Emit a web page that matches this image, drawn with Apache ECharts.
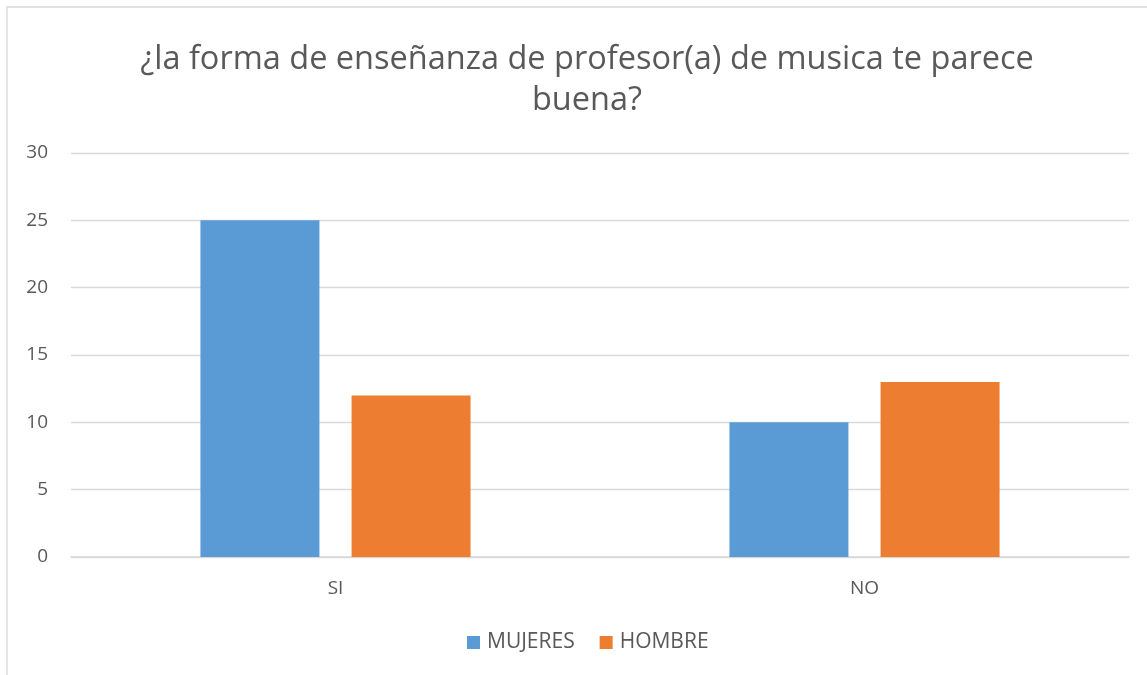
<!DOCTYPE html>
<html>
<head>
<meta charset="utf-8">
<script src="https://cdn.jsdelivr.net/npm/echarts@6/dist/echarts.min.js"></script>
<style>
  html, body { margin: 0; padding: 0; background: #fff; }
  #chart { width: 1147px; height: 675px; }
</style>
</head>
<body>
<div id="chart"></div>
<script>
  const categories = ['SI', 'NO']
  const mujeres = [25, 10]
  const hombre = [12, 13]
  const seriesNames = ['MUJERES', 'HOMBRE']

  const textColor = '#595959'
  const font = "'Open Sans', 'Noto Sans', sans-serif"

  let myChart = echarts.init(document.getElementById('chart'))
  let option = {
    animation: false,
    textStyle: { fontFamily: font },
    graphic: [{
      type: 'rect',
      shape: { x: 7, y: 7, width: 1160, height: 700 },
      style: { fill: 'none', stroke: '#d9d9d9', lineWidth: 1.3 },
      silent: true
    }],
    title: {
      text: '¿la forma de enseñanza de profesor(a) de musica te parece\nbuena?',
      left: 582,
      textAlign: 'center',
      top: 34,
      textStyle: {
        color: textColor,
        fontFamily: font,
        fontWeight: 'normal',
        fontSize: 32.5,
        lineHeight: 41
      }
    },
    legend: {
      data: seriesNames,
      bottom: 17,
      left: 462,
      itemWidth: 13,
      itemHeight: 13,
      itemGap: 25,
      icon: 'rect',
      textStyle: { color: textColor, fontSize: 21, fontFamily: font, padding: [0, 0, 0, 2] }
    },
    grid: {
      left: 71,
      right: 18,
      top: 153,
      bottom: 118,
      containLabel: false
    },
    xAxis: {
      type: 'category',
      data: categories,
      axisLine: { lineStyle: { color: '#d9d9d9', width: 1.5 } },
      axisTick: { show: false },
      axisLabel: { color: textColor, fontSize: 19, margin: 22, fontFamily: font }
    },
    yAxis: {
      type: 'value',
      min: 0,
      max: 30,
      interval: 5,
      axisLine: { show: false },
      axisTick: { show: false },
      axisLabel: { color: textColor, fontSize: 19, margin: 23, fontFamily: font },
      splitLine: { lineStyle: { color: '#d9d9d9', width: 1.3 } }
    },
    series: [{
      name: seriesNames[0],
      type: 'bar',
      data: mujeres,
      barWidth: 119,
      barGap: '27%',
      itemStyle: { color: '#5b9bd5' }
    }, {
      name: seriesNames[1],
      type: 'bar',
      data: hombre,
      barWidth: 119,
      itemStyle: { color: '#ed7d31' }
    }]
  }
  myChart.setOption(option)
</script>
</body>
</html>
